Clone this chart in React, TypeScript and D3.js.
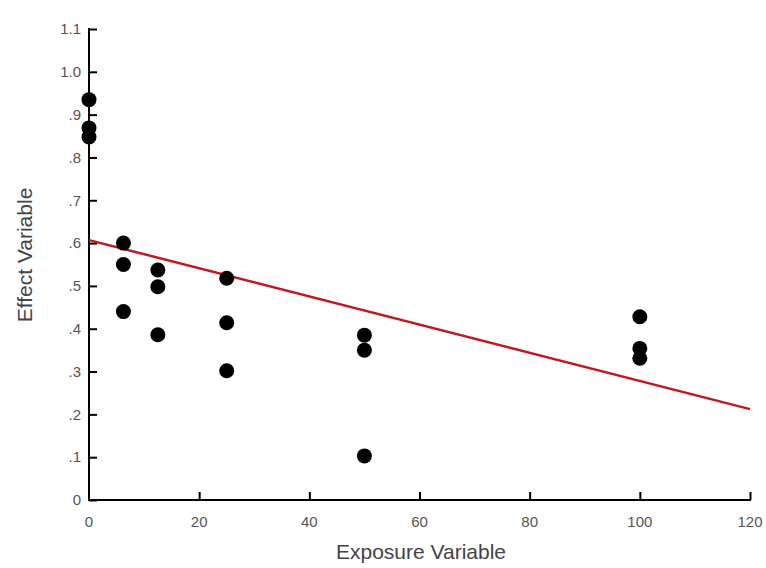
import React, { useEffect, useRef } from "react";
import * as d3 from "d3";

// Observations: exposure dose and measured effect
const exposure = [0, 0, 0, 6.25, 6.25, 6.25, 12.5, 12.5, 12.5, 25, 25, 25, 50, 50, 50, 100, 100, 100];
const effect = [0.935, 0.869, 0.848, 0.6, 0.55, 0.44, 0.537, 0.498, 0.386, 0.518, 0.414, 0.302, 0.385, 0.35, 0.103, 0.428, 0.354, 0.331];

// Fitted trend line
const fitIntercept = 0.607;
const fitSlope = -0.00329;

const xTicks = [0, 20, 40, 60, 80, 100, 120];
const yTicks = [0, 0.1, 0.2, 0.3, 0.4, 0.5, 0.6, 0.7, 0.8, 0.9, 1.0, 1.1];
const yTickLabels = ["0", ".1", ".2", ".3", ".4", ".5", ".6", ".7", ".8", ".9", "1.0", "1.1"];

const W = 766;
const H = 568;
const FONT = "'Liberation Sans', Arial, sans-serif";

export default function App() {
  const ref = useRef<SVGSVGElement>(null);

  useEffect(() => {
    const svg = d3.select(ref.current);
    svg.selectAll("*").remove();

    const x = d3.scaleLinear().domain([0, 120]).range([89, 750]);
    const y = d3.scaleLinear().domain([0, 1.1]).range([500, 29]);

    // Y axis, ticks pointing inward
    const yAxis = svg.append("g").attr("transform", `translate(${x(0)},0)`);
    yAxis
      .call(d3.axisRight(y).tickValues(yTicks).tickSize(8).tickFormat(() => ""))
      .call((g) => g.select(".domain").remove());
    yAxis.selectAll(".tick line").attr("stroke", "#000").attr("stroke-width", 2);
    yAxis
      .append("line")
      .attr("x1", 0)
      .attr("x2", 0)
      .attr("y1", y(1.1) - 1)
      .attr("y2", y(0) + 1)
      .attr("stroke", "#000")
      .attr("stroke-width", 2);

    svg
      .append("g")
      .selectAll("text")
      .data(yTicks)
      .join("text")
      .attr("x", 81)
      .attr("y", (d) => y(d))
      .attr("dy", "0.35em")
      .attr("text-anchor", "end")
      .attr("font-family", FONT)
      .attr("font-size", 15)
      .attr("fill", "#555")
      .text((d, i) => yTickLabels[i]);

    // X axis, ticks pointing inward
    const xAxis = svg.append("g").attr("transform", `translate(0,${y(0)})`);
    xAxis
      .call(d3.axisTop(x).tickValues(xTicks.slice(1)).tickSize(8).tickFormat(() => ""))
      .call((g) => g.select(".domain").remove());
    xAxis.selectAll(".tick line").attr("stroke", "#000").attr("stroke-width", 2);
    xAxis
      .append("line")
      .attr("x1", x(0) - 1)
      .attr("x2", x(120) + 1)
      .attr("stroke", "#000")
      .attr("stroke-width", 2);

    svg
      .append("g")
      .selectAll("text")
      .data(xTicks)
      .join("text")
      .attr("x", (d) => x(d))
      .attr("y", 522)
      .attr("dy", "0.35em")
      .attr("text-anchor", "middle")
      .attr("font-family", FONT)
      .attr("font-size", 15)
      .attr("fill", "#555")
      .text((d) => String(d));

    // Axis titles
    svg
      .append("text")
      .attr("x", 421)
      .attr("y", 559)
      .attr("text-anchor", "middle")
      .attr("font-family", FONT)
      .attr("font-size", 21)
      .attr("fill", "#444")
      .text("Exposure Variable");

    svg
      .append("text")
      .attr("transform", `translate(32,255) rotate(-90)`)
      .attr("text-anchor", "middle")
      .attr("font-family", FONT)
      .attr("font-size", 21)
      .attr("fill", "#444")
      .text("Effect Variable");

    // Trend line
    const line = d3
      .line<number>()
      .x((d) => x(d))
      .y((d) => y(fitIntercept + fitSlope * d));
    svg
      .append("path")
      .datum([0, 120])
      .attr("d", line)
      .attr("fill", "none")
      .attr("stroke", "#c3161d")
      .attr("stroke-width", 2.5);

    // Data points
    svg
      .append("g")
      .selectAll("circle")
      .data(exposure.map((e, i) => [e, effect[i]]))
      .join("circle")
      .attr("cx", (d) => x(d[0]))
      .attr("cy", (d) => y(d[1]))
      .attr("r", 7.5)
      .attr("fill", "#000");
  }, []);

  return (
    <svg
      ref={ref}
      width={W}
      height={H}
      style={{ position: "absolute", left: 0, top: 0, background: "#fff" }}
    />
  );
}
